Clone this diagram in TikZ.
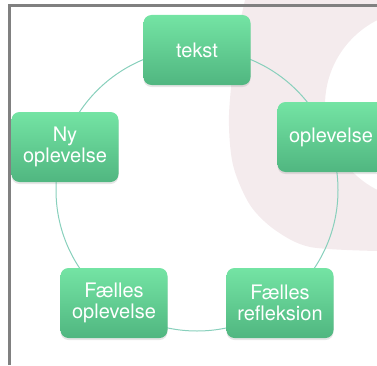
\documentclass[tikz,border=0pt]{standalone}
\usepackage{fontspec}
\setmainfont{TeX Gyre Heros}
\usetikzlibrary{shadows}
\definecolor{boxtop}{HTML}{74E4A4}
\definecolor{boxbot}{HTML}{50B680}
\definecolor{ringline}{HTML}{88D0BC}
\definecolor{pinkbg}{HTML}{F4EBED}
\definecolor{framegray}{HTML}{808080}
\tikzset{stage/.style={rounded corners=8pt, minimum width=107pt, minimum height=70pt,
    inner sep=2pt, top color=boxtop, bottom color=boxbot, text=white, align=center,
    font=\fontsize{20}{20.5}\selectfont,
    drop shadow={opacity=0.2, shadow xshift=0pt, shadow yshift=-2pt}}}
\begin{document}
\begin{tikzpicture}[x=1pt,y=1pt]
          \useasboundingbox (0,0) rectangle (377,365);
          \clip (0,0) rectangle (377,365);
          \fill[pinkbg, even odd rule] plot[smooth] coordinates {(245,365) (236,320) (229,250) (233,200) (250,160) (275,135) (310,118) (377,114)}
            -- (377,365) -- cycle (420,260) circle[radius=95];
          \draw[framegray, line width=3pt] (9.5,0) -- (9.5,359.5) -- (377,359.5);
          \coordinate (mid) at (197,175);
          \draw[ringline, line width=1pt] (mid) circle[radius=141];
          \node[stage] (tekst) at (197,315) {tekst};
          \node[stage] (opl) at (331,228) {oplevelse};
          \node[stage] (refl) at (280,62) {Fælles\\refleksion};
          \node[stage] (fopl) at (114,62) {Fælles\\oplevelse};
          \node[stage] (nyopl) at (65,218) {Ny\\oplevelse};
        \end{tikzpicture}
\end{document}
